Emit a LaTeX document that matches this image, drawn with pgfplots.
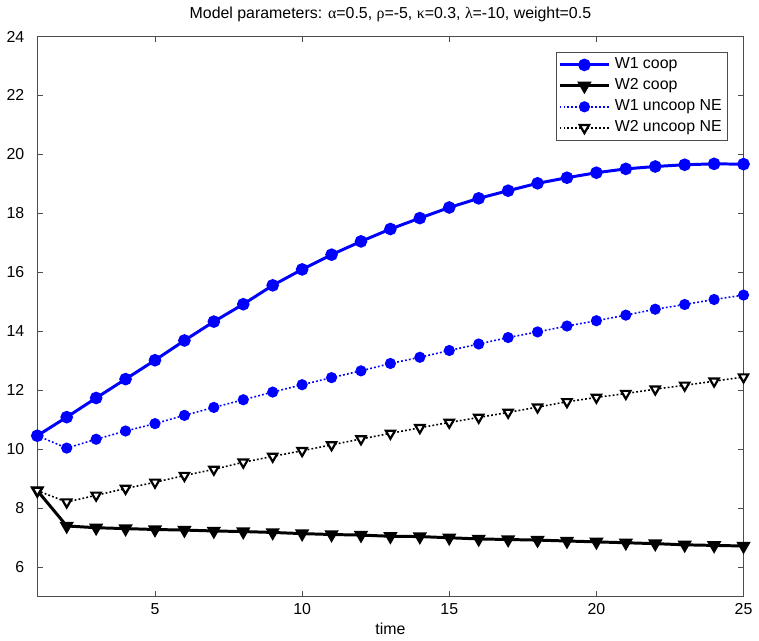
\documentclass[border=0pt]{standalone}
\usepackage{fontspec}
\setmainfont{Liberation Sans}
\newfontfamily\grk{Liberation Serif}
\usepackage{pgfplots}
\pgfplotsset{compat=1.18}

\definecolor{mblue}{RGB}{0,0,255}

\begin{document}
\begin{tikzpicture}
\begin{axis}[
  scale only axis, width=355.5pt, height=282pt,
  xmin=1, xmax=25, ymin=5, ymax=24,
  xtick={5,10,15,20,25}, ytick={6,8,...,24},
  tick align=inside, major tick length=3pt,
  axis line style={black!70}, every tick/.style={black!70, line width=0.4pt},
  font=\fontsize{8}{9.6}\selectfont,
  /pgf/number format/assume math mode=true,
  yticklabel style={xshift=-3pt},
  title={Model parameters: {\grk α}=0.5, {\grk ρ}=-5, {\grk κ}=0.3, {\grk λ}=-10, weight=0.5},
  title style={yshift=-2pt},
  xlabel={time},
  xlabel style={yshift=3pt},
  legend style={at={(0.978,0.973)}, anchor=north east, draw=black!70,
    font=\fontsize{8}{9.6}\selectfont, inner sep=1pt, row sep=-0.5pt},
  legend cell align=left,
  legend image code/.code={\draw[mark repeat=2,mark phase=2] plot coordinates {(0cm,0cm) (0.44cm,0cm) (0.88cm,0cm)};},
]
% W1 coop
\addplot[mblue, line width=1.5pt, mark=*, mark size=2.4pt, mark options={solid}] coordinates {
(1,10.46) (2,11.09) (3,11.74) (4,12.38) (5,13.02) (6,13.69) (7,14.33) (8,14.92)
(9,15.56) (10,16.10) (11,16.60) (12,17.05) (13,17.47) (14,17.84) (15,18.20)
(16,18.51) (17,18.77) (18,19.02) (19,19.21) (20,19.38) (21,19.51) (22,19.59)
(23,19.65) (24,19.68) (25,19.67)};
\addlegendentry{W1 coop}
% W2 coop
\addplot[black, line width=1.5pt, mark=triangle*, mark size=2.7pt,
  mark options={solid, rotate=180, fill=black}] coordinates {
(1,8.60) (2,7.40) (3,7.34) (4,7.31) (5,7.28) (6,7.26) (7,7.23) (8,7.21)
(9,7.18) (10,7.14) (11,7.11) (12,7.09) (13,7.05) (14,7.04) (15,7.00)
(16,6.96) (17,6.94) (18,6.92) (19,6.89) (20,6.86) (21,6.83) (22,6.80)
(23,6.76) (24,6.74) (25,6.72)};
\addlegendentry{W2 coop}
% W1 uncoop NE
\addplot[mblue, line width=0.8pt, dash pattern=on 0.9pt off 1.1pt, mark=*, mark size=2.4pt, mark options={solid}] coordinates {
(1,10.46) (2,10.04) (3,10.34) (4,10.62) (5,10.87) (6,11.15) (7,11.42) (8,11.68)
(9,11.94) (10,12.19) (11,12.43) (12,12.66) (13,12.91) (14,13.12) (15,13.35)
(16,13.57) (17,13.79) (18,13.98) (19,14.18) (20,14.36) (21,14.55) (22,14.75)
(23,14.91) (24,15.08) (25,15.23)};
\addlegendentry{W1 uncoop NE}
% W2 uncoop NE
\addplot[black, line width=0.8pt, dash pattern=on 0.9pt off 1.1pt, mark=triangle*, mark size=2.7pt,
  mark options={solid, rotate=180, fill=white, line width=1.1pt}] coordinates {
(1,8.60) (2,8.21) (3,8.44) (4,8.67) (5,8.88) (6,9.11) (7,9.32) (8,9.56)
(9,9.76) (10,9.95) (11,10.15) (12,10.35) (13,10.54) (14,10.73) (15,10.91)
(16,11.08) (17,11.25) (18,11.43) (19,11.61) (20,11.76) (21,11.89) (22,12.04)
(23,12.17) (24,12.31) (25,12.45)};
\addlegendentry{W2 uncoop NE}
\end{axis}
\end{tikzpicture}
\end{document}
